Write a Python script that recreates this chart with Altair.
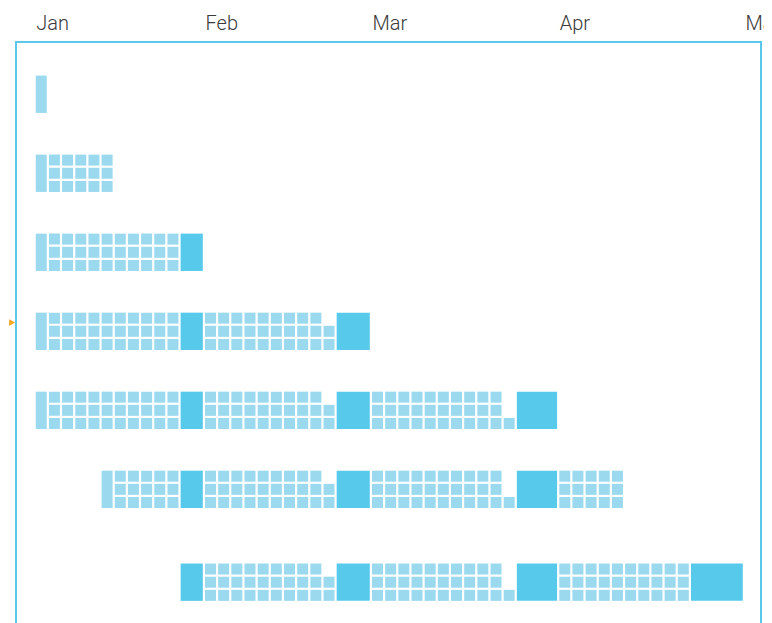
import math
import altair as alt
import pandas as pd

# ---------------- data ----------------
months = ["Jan", "Feb", "Mar", "Apr"]
next_month = "May"
month_days = [31, 29, 31, 30]
lead_days = [1, 0, 0, 0]                 # Jan 1 sits in a column of its own
block_size = [1.85, 2.68, 3.22, 4.10]    # month-end summary blocks (cell units)

# each row = one step of the moving window (day-of-year, inclusive)
row_start = [1, 1, 1, 1, 1, 16, 32]
row_end = [1, 16, 31, 60, 91, 106, 121]
row_marker = [True, True, True, True, True, True, False]
current_row = 3

# ---------------- layout constants ----------------
U = 13.17            # px per cell pitch
W_PX, H_PX = 745, 606
W_U, H_U = W_PX / U, H_PX / U
X0 = 1.5             # first column
CELL = 0.835         # cell size inside a pitch
ROW_TOP0, ROW_PITCH = 2.55, 6
ROW_EXTRA = [0, 0, 0, 0, 0, 0, 1.05]

# positions of each day and block along x
day_pos = {}   # doy -> (u, sub or None for full height)
blocks = []    # (u, width, month_end_doy)
month_start_u = []
cursor = X0
offset = 0
for m, nd in enumerate(month_days):
    month_start_u.append(cursor)
    lead = lead_days[m]
    for k in range(1, nd + 1):
        doy = offset + k
        if k <= lead:
            day_pos[doy] = (cursor + (k - 1), None)
        else:
            d = k - lead - 1
            day_pos[doy] = (cursor + lead + d // 3, 2 - d % 3)
    cols = lead + math.ceil((nd - lead) / 3)
    blocks.append((cursor + cols, block_size[m], offset + nd))
    cursor = cursor + cols + block_size[m]
    offset += nd
month_start_u.append(cursor)
label_names = months + [next_month]

rows = []
for r in range(len(row_start)):
    top = ROW_TOP0 + ROW_PITCH * r + ROW_EXTRA[r]
    s, e = row_start[r], row_end[r]
    for doy in range(s, e + 1):
        u, sub = day_pos[doy]
        if (doy == s and row_marker[r]) or sub is None:
            rows.append(dict(x=u, x2=u + CELL, y=top, y2=top + 2 + CELL, kind="day"))
        else:
            rows.append(dict(x=u, x2=u + CELL, y=top + sub, y2=top + sub + CELL, kind="day"))
    for (bu, bw, bend) in blocks:
        if s - 1 <= bend <= e:
            rows.append(dict(x=bu, x2=bu + bw - (1 - CELL), y=top, y2=top + 2 + CELL, kind="block"))
df = pd.DataFrame(rows)

arrow_df = pd.DataFrame({"x": [-0.3], "y": [ROW_TOP0 + ROW_PITCH * current_row + 0.75]})

# label expression from the month lists
expr = "''"
for u, name in reversed(list(zip(month_start_u, label_names))):
    expr = f"abs(datum.value - {u:.4f}) < 0.01 ? '{name}' : " + expr

xscale = alt.Scale(domain=[0, W_U], nice=False, zero=False)
yscale = alt.Scale(domain=[0, H_U], nice=False, zero=False, reverse=True)

cells = alt.Chart(df).mark_rect().encode(
    x=alt.X("x:Q", scale=xscale, title=None,
            axis=alt.Axis(orient="top", values=[round(v, 4) for v in month_start_u],
                          labelExpr=expr, domain=False, ticks=False, tickSize=0, grid=False,
                          labelAlign="left", labelBaseline="alphabetic", labelPadding=12.7,
                          labelFlush=False, labelOverlap=False, labelFont="Roboto",
                          labelFontWeight=300, labelFontSize=20, labelColor="#3A3A3A")),
    x2="x2:Q",
    y=alt.Y("y:Q", scale=yscale, axis=None),
    y2="y2:Q",
    color=alt.Color("kind:N", scale=alt.Scale(domain=["day", "block"],
                                              range=["#9BD9EE", "#57CAEB"]), legend=None),
)

arrow = alt.Chart(arrow_df).mark_point(shape="triangle-right", filled=True, size=45,
                                       color="#F5A623", opacity=1).encode(
    x=alt.X("x:Q", scale=xscale), y=alt.Y("y:Q", scale=yscale))

chart = alt.layer(cells, arrow).properties(
    width=W_PX, height=H_PX,
    autosize=alt.AutoSizeParams(type="none"),
    padding={"left": 8, "top": 34, "right": 3, "bottom": 0},
).configure_view(stroke="#5BC8EA", strokeWidth=2)

chart.save("out.html", embed_options={"renderer": "svg", "actions": False})
